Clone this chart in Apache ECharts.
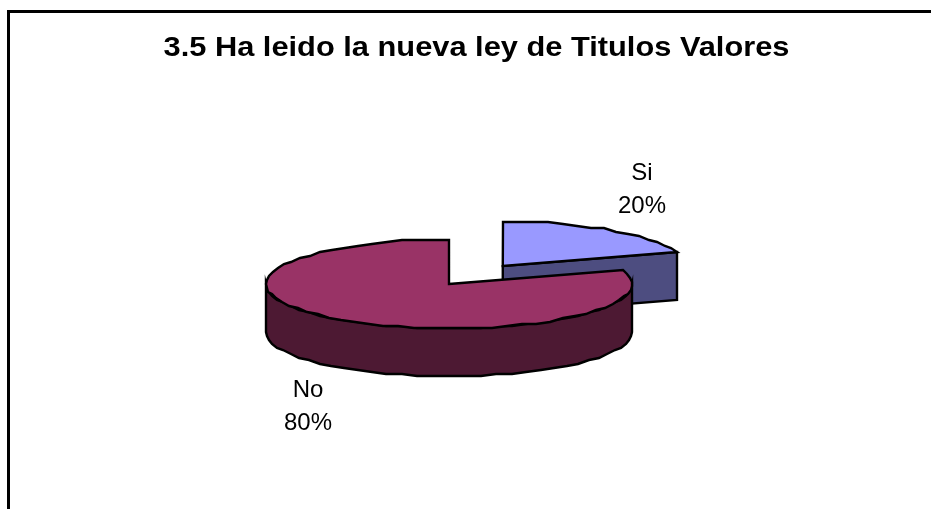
<!DOCTYPE html>
<html>
<head>
<meta charset="utf-8">
<style>
  html, body { margin: 0; padding: 0; background: #ffffff; }
  #chart { width: 931px; height: 509px; }
</style>
<script src="https://cdn.jsdelivr.net/npm/echarts@6/dist/echarts.min.js"></script>
</head>
<body>
<div id="chart"></div>
<script>
// Survey answers
const categories = ['Si', 'No'];
const shares = [20, 80];
const chartTitle = '3.5 Ha leido la nueva ley de Titulos Valores';

// Fill colours per answer: top face, side face
const topColors = ['#9999ff', '#993366'];
const sideColors = ['#4d4d80', '#4d1933'];

// Tilted pie geometry, in pixels
const pie = { cx: 449, cy: 284, rx: 183, ry: 44.5, depth: 48, explode: [0.5, 0] };
const labelSpots = [[642, 190], [308, 407]];
const outline = { stroke: '#000000', lineWidth: 2.4, lineJoin: 'miter' };

const chart = echarts.init(document.getElementById('chart'), null, { renderer: 'canvas' });

// Point on the rim; the angle runs clockwise from twelve o'clock, in degrees.
// Snapped to a coarse pixel grid, which gives the outline its stepped look.
function rim(deg, ox, oy, drop) {
  const a = deg * Math.PI / 180;
  return [
    Math.round(pie.cx + ox + pie.rx * Math.sin(a)),
    Math.round((pie.cy + oy - pie.ry * Math.cos(a)) / 2) * 2 + drop
  ];
}

function arc(from, to, ox, oy, drop) {
  const pts = [];
  const steps = Math.max(2, Math.ceil(Math.abs(to - from) / 5));
  for (let i = 0; i <= steps; i++) {
    pts.push(rim(from + (to - from) * i / steps, ox, oy, drop));
  }
  return pts;
}

function poly(points, fill) {
  return { type: 'polygon', shape: { points }, style: { ...outline, fill } };
}

function renderSlice(params, api) {
  const i = params.dataIndex;
  const total = shares.reduce((s, v) => s + v, 0);
  const before = shares.slice(0, i).reduce((s, v) => s + v, 0);
  const start = before / total * 360;
  const end = (before + api.value(0)) / total * 360;
  const mid = (start + end) / 2 * Math.PI / 180;

  // Exploded slices slide outward along their bisector in the pie's plane
  const k = pie.explode[i];
  const ox = k * pie.rx * Math.sin(mid);
  const oy = -k * pie.ry * Math.cos(mid);
  const apex = [pie.cx + ox, pie.cy + oy];
  const faces = [];

  // Cut face at the slice's trailing edge, seen when it looks toward the viewer
  if (end % 360 > 0 && end % 360 < 180) {
    const e = rim(end, ox, oy, 0);
    faces.push(poly([apex, e, [e[0], e[1] + pie.depth], [apex[0], apex[1] + pie.depth]], sideColors[i]));
  }
  // Front wall: only the part of the rim between 90 and 270 degrees is visible
  const wallFrom = Math.max(start, 90);
  const wallTo = Math.min(end, 270);
  if (wallFrom < wallTo) {
    const upper = arc(wallFrom, wallTo, ox, oy, 0);
    const lower = arc(wallTo, wallFrom, ox, oy, pie.depth);
    faces.push(poly(upper.concat(lower), sideColors[i]));
  }
  // Top face
  faces.push(poly([apex].concat(arc(start, end, ox, oy, 0)), topColors[i]));

  // Category name over percentage
  faces.push({
    type: 'text',
    style: {
      text: categories[i] + '\n' + Math.round(api.value(0) / total * 100) + '%',
      x: labelSpots[i][0],
      y: labelSpots[i][1],
      align: 'center',
      verticalAlign: 'middle',
      font: '24px "Liberation Sans", Arial, sans-serif',
      lineHeight: 33,
      fill: '#000000'
    }
  });
  return { type: 'group', children: faces };
}

chart.setOption({
  animation: false,
  backgroundColor: '#ffffff',
  graphic: [
    {
      // Frame: top and left edges only
      type: 'polyline',
      silent: true,
      shape: { points: [[8.5, 509], [8.5, 11.5], [931, 11.5]] },
      style: { stroke: '#000000', lineWidth: 3, fill: null }
    },
    {
      // Heading, stretched a little wider than the face's natural width
      type: 'text',
      silent: true,
      x: 476.5,
      y: 48,
      scaleX: 1.1,
      style: {
        text: chartTitle,
        align: 'center',
        verticalAlign: 'middle',
        font: 'bold 28px "Liberation Sans", Arial, sans-serif',
        fill: '#000000'
      }
    }
  ],
  series: [
    {
      type: 'custom',
      coordinateSystem: 'none',
      renderItem: renderSlice,
      data: shares.map(v => [v])
    }
  ]
});
</script>
</body>
</html>
